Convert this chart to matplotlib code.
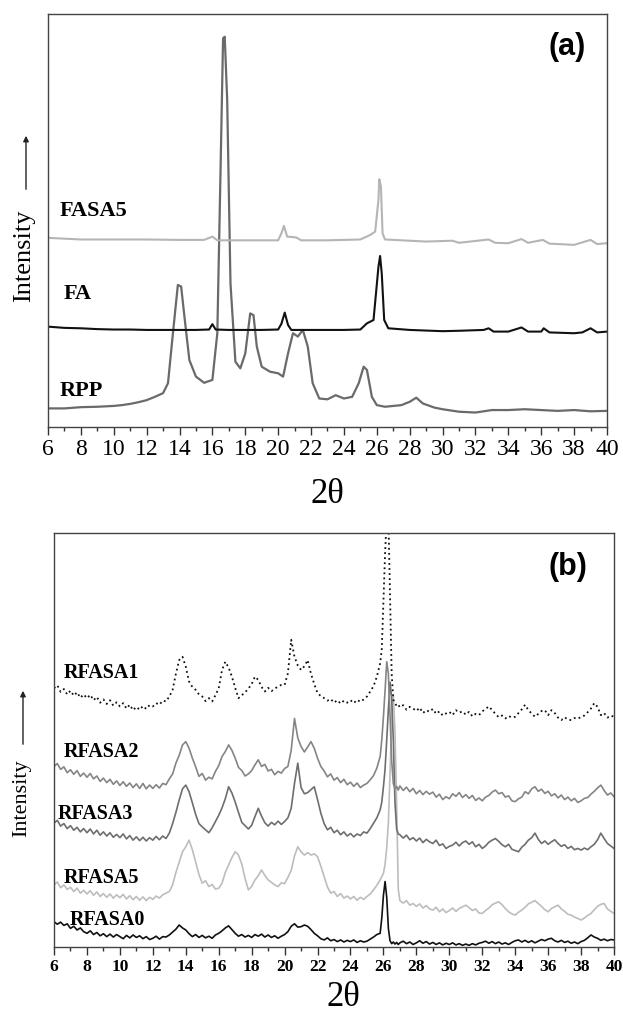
import matplotlib
matplotlib.use('Agg')
import matplotlib.pyplot as plt
from matplotlib.ticker import MultipleLocator

# ---------------- Panel (a) data ----------------
rpp_x = [6, 7, 8, 9, 10, 10.5, 11, 11.5, 12, 12.5, 13, 13.3, 13.6, 13.9, 14.1, 14.3, 14.6, 15, 15.5, 16,
         16.3, 16.5, 16.65, 16.75, 16.9, 17.1, 17.4, 17.7, 18.0, 18.3, 18.5, 18.7, 19.0, 19.5, 20.0, 20.3,
         20.6, 20.9, 21.2, 21.5, 21.8, 22.1, 22.5, 23, 23.5, 24, 24.5, 24.9, 25.2, 25.4, 25.7, 26, 26.5, 27,
         27.5, 28, 28.4, 28.8, 29.5, 30, 31, 32, 33, 34, 35, 36, 37, 38, 39, 40]
rpp_y = [4.5, 4.5, 4.8, 4.9, 5.1, 5.3, 5.6, 6.0, 6.5, 7.3, 8.2, 10.6, 22.7, 34.4, 34.0, 26.7, 16.2, 12.2, 10.7, 11.4,
         22.7, 63.0, 94.1, 94.5, 79.2, 34.8, 15.8, 14.2, 17.8, 27.5, 27.1, 19.5, 14.6, 13.4, 13.0, 12.2,
         17.8, 22.7, 21.9, 23.5, 19.5, 10.6, 6.9, 6.7, 7.7, 6.9, 7.3, 10.6, 14.6, 13.8, 7.3, 5.3, 4.9, 5.1,
         5.3, 6.1, 7.1, 5.7, 4.7, 4.3, 3.7, 3.5, 4.1, 4.1, 4.3, 4.1, 3.9, 4.1, 3.8, 3.9]

fa_x = [6, 7, 8, 9, 10, 11, 12, 13, 14, 15, 15.8, 16.0, 16.2, 17, 18, 19, 20, 20.2, 20.4, 20.6, 20.8, 22, 24,
        25, 25.4, 25.8, 26.1, 26.2, 26.3, 26.45, 26.7, 28, 30, 31, 32.5, 32.8, 33.1, 34, 34.8, 35.2, 36,
        36.15, 36.5, 38, 38.5, 39, 39.4, 40]
fa_y = [24.3, 24.0, 23.9, 23.7, 23.6, 23.6, 23.5, 23.5, 23.5, 23.5, 23.6, 24.9, 23.6, 23.5, 23.5, 23.5, 23.6,
        25.0, 27.7, 24.7, 23.5, 23.5, 23.5, 23.6, 25.1, 25.9, 38.8, 41.4, 37.2, 25.9, 23.9, 23.5, 23.2,
        23.3, 23.5, 23.9, 23.1, 23.1, 24.1, 23.1, 23.1, 23.9, 22.9, 22.7, 22.9, 23.9, 22.9, 23.1]

fasa5_x = [6, 7, 8, 10, 12, 14, 15.5, 16.0, 16.3, 18, 20, 20.2, 20.35, 20.55, 21.1, 21.4, 23, 25, 25.6, 25.9,
           26.1, 26.15, 26.25, 26.35, 26.5, 27, 29, 30.6, 31, 32.8, 33.2, 34, 34.8, 35.2, 36.1, 36.5, 38,
           39, 39.4, 40]
fasa5_y = [45.8, 45.6, 45.4, 45.4, 45.4, 45.3, 45.3, 46.1, 45.2, 45.2, 45.2, 46.9, 48.7, 46.1, 45.9, 45.2,
           45.2, 45.4, 46.5, 47.3, 55.0, 60.0, 58.2, 46.9, 45.4, 45.3, 44.9, 45.1, 44.6, 45.4, 44.6, 44.5,
           45.5, 44.6, 45.3, 44.4, 44.1, 45.3, 44.3, 44.5]

# ---------------- Panel (b) data (shared 2-theta sampling) ----------------
two_theta_b = [
    6.0, 6.2, 6.4, 6.6, 6.8, 7.0, 7.2, 7.4, 7.6, 7.8, 8.0, 8.2, 8.4, 8.6, 8.8, 9.0, 9.2, 9.4, 9.6, 9.8,
    10.0, 10.2, 10.4, 10.6, 10.8, 11.0, 11.2, 11.4, 11.6, 11.8, 12.0, 12.2, 12.4, 12.6, 12.8,
    13.0, 13.2, 13.4, 13.6, 13.8, 14.0, 14.2, 14.4, 14.6, 14.8, 15.0, 15.2, 15.4, 15.6, 15.8,
    16.0, 16.2, 16.4, 16.6, 16.8, 17.0, 17.2, 17.4, 17.6, 17.8, 18.0, 18.2, 18.4, 18.6, 18.8,
    19.0, 19.2, 19.4, 19.6, 19.8, 20.0, 20.2, 20.4, 20.6, 20.8, 21.0, 21.2, 21.4, 21.6, 21.8,
    22.0, 22.2, 22.4, 22.6, 22.8, 23.0, 23.2, 23.4, 23.6, 23.8, 24.0, 24.2, 24.4, 24.6, 24.8,
    25.0, 25.2, 25.4, 25.6, 25.8,
    25.9, 26.0, 26.1, 26.2, 26.3, 26.4, 26.5, 26.6, 26.7, 26.8, 26.9, 27.0,
    27.2, 27.4, 27.6, 27.8, 28.0, 28.2, 28.4, 28.6, 28.8, 29.0, 29.2, 29.4, 29.6, 29.8,
    30.0, 30.2, 30.4, 30.6, 30.8, 31.0, 31.2, 31.4, 31.6, 31.8, 32.0, 32.2, 32.4, 32.6, 32.8,
    33.0, 33.2, 33.4, 33.6, 33.8, 34.0, 34.2, 34.4, 34.6, 34.8, 35.0, 35.2, 35.4, 35.6, 35.8,
    36.0, 36.2, 36.4, 36.6, 36.8, 37.0, 37.2, 37.4, 37.6, 37.8, 38.0, 38.2, 38.4, 38.6, 38.8,
    39.0, 39.2, 39.4, 39.6, 39.8, 40.0]

rfasa1 = [
    62.5, 63.2, 61.6, 62.3, 61.0, 61.9, 60.7, 61.5, 60.2, 61.0, 60.1, 60.9, 59.6, 60.4, 59.0,
    59.8, 58.7, 59.6, 58.3, 59.1, 58.1, 58.9, 57.6, 58.5, 57.2, 58.0, 57.3, 58.2, 57.5, 58.4,
    58.1, 58.9, 58.5, 59.5, 59.3, 60.5, 62.1, 66.0, 69.3, 70.1, 67.7, 64.1, 62.8, 62.1, 61.0,
    60.5, 59.4, 60.1, 59.3, 60.8, 62.5, 66.9, 68.9, 67.5, 65.3, 62.6, 60.1, 60.8, 61.5, 62.4,
    63.5, 65.3, 64.5, 62.8, 61.7, 62.6, 61.8, 62.4, 62.9, 63.3, 63.3, 66.1, 74.2, 70.1, 68.0,
    66.9, 67.8, 69.3, 66.0, 63.5, 61.3, 60.6, 60.1, 59.5, 59.9, 59.0, 59.6, 58.8, 59.5, 59.0,
    59.6, 58.9, 59.7, 59.2, 59.8, 60.5, 61.7, 63.0, 65.3, 68.5,
    72.0, 83.8, 95.0, 104.0, 104.0, 85.0, 66.0, 59.7, 59.0, 58.2, 58.5, 57.9,
    58.4, 57.3, 58.0, 57.6, 57.0, 57.8, 56.5, 57.2, 56.8, 57.5, 56.3, 56.9, 55.9, 56.4,
    56.8, 56.0, 57.2, 56.6, 56.9, 56.1, 56.8, 55.7, 56.3, 56.0, 56.9, 57.5, 58.1, 57.2, 56.3,
    55.5, 55.9, 55.2, 55.8, 55.4, 55.6, 56.5, 57.4, 58.5, 57.2, 56.4, 55.6, 56.3, 57.0, 57.2,
    56.0, 57.2, 56.5, 55.4, 54.8, 55.5, 54.9, 54.8, 55.3, 55.1, 55.6, 55.9, 56.7, 57.6, 58.9,
    58.0, 56.0, 56.5, 55.4, 55.9, 55.6]

rfasa2 = [
    43.6, 44.3, 42.9, 43.5, 42.1, 42.8, 41.7, 42.6, 41.2, 42.0, 41.0, 41.9, 40.6, 41.3, 40.0,
    40.8, 39.7, 40.5, 39.3, 40.1, 39.0, 39.9, 38.8, 39.6, 38.5, 39.4, 38.3, 39.5, 38.2, 39.1,
    38.3, 39.2, 38.4, 39.5, 39.2, 40.6, 41.8, 44.4, 46.3, 48.8, 49.6, 48.0, 45.6, 43.5, 41.2,
    41.9, 40.3, 41.0, 40.6, 42.4, 43.8, 46.0, 47.2, 48.8, 47.5, 45.6, 43.4, 42.6, 41.3, 41.8,
    42.6, 44.0, 45.2, 43.6, 44.1, 42.5, 42.9, 41.6, 42.4, 42.0, 43.1, 43.6, 47.5, 55.2, 50.5,
    48.4, 47.1, 48.3, 49.6, 48.0, 45.6, 43.6, 42.5, 41.1, 41.8, 40.3, 40.9, 39.7, 40.5, 39.2,
    39.8, 38.8, 39.6, 38.5, 39.1, 39.5, 40.4, 41.4, 43.2, 46.0,
    50.0, 55.6, 62.0, 68.9, 66.0, 56.0, 45.0, 39.5, 38.2, 38.8, 37.9, 38.9,
    37.8, 38.6, 37.5, 38.3, 37.0, 37.8, 36.8, 37.6, 36.9, 37.4, 36.2, 36.9, 35.6, 36.3,
    35.8, 37.0, 36.4, 37.3, 36.1, 36.8, 35.9, 36.6, 35.4, 36.0, 35.3, 36.2, 36.6, 37.4, 37.9,
    37.0, 37.3, 36.2, 36.5, 35.3, 35.1, 35.8, 36.2, 37.5, 37.0, 38.2, 38.7, 37.6, 38.1, 37.1,
    37.6, 36.5, 37.0, 36.0, 36.7, 35.6, 36.2, 35.3, 35.9, 34.9, 35.3, 35.9, 36.1, 36.9, 37.6,
    38.4, 39.1, 37.8, 36.7, 37.2, 36.3]

rfasa3 = [
    29.9, 30.6, 29.2, 29.8, 28.6, 29.3, 28.2, 28.9, 27.8, 28.6, 27.6, 28.5, 27.3, 28.2, 27.0,
    27.8, 26.8, 27.6, 26.5, 27.2, 26.4, 27.3, 26.1, 26.9, 25.8, 26.6, 25.7, 26.5, 25.6, 26.4,
    25.8, 26.7, 25.9, 26.8, 26.2, 27.5, 29.8, 32.5, 35.5, 38.2, 39.1, 37.5, 34.8, 32.0, 29.8,
    29.0, 28.3, 27.6, 28.8, 30.3, 31.8, 33.6, 35.8, 38.7, 37.2, 35.0, 32.5, 30.1, 29.3, 28.5,
    29.4, 31.5, 33.5, 31.6, 30.0, 29.2, 30.1, 29.5, 30.4, 29.6, 30.3, 31.2, 33.5, 39.5, 44.4,
    38.5, 37.0, 37.3, 38.0, 38.7, 35.6, 32.3, 29.8, 28.3, 28.9, 27.6, 28.2, 27.1, 27.8, 26.8,
    27.4, 26.6, 27.3, 26.9, 27.8, 27.5, 28.6, 29.9, 31.2, 33.1,
    35.0, 38.7, 43.0, 50.0, 57.5, 64.0, 60.0, 50.0, 35.0, 28.5, 27.3, 27.1,
    26.3, 27.0, 25.9, 26.4, 25.6, 26.3, 25.2, 26.0, 25.4, 25.0, 25.8, 24.5, 24.9, 23.8,
    24.3, 24.6, 25.3, 24.4, 25.2, 25.6, 24.8, 25.4, 24.2, 24.8, 23.8, 24.4, 25.3, 25.8, 26.2,
    25.5, 24.7, 24.2, 24.8, 23.6, 23.3, 23.0, 24.1, 24.8, 25.8, 26.4, 27.5, 26.0, 25.0, 25.6,
    24.8, 25.4, 25.9, 25.0, 24.3, 24.7, 23.8, 24.3, 23.5, 23.8, 23.4, 23.9, 23.5, 24.2, 24.8,
    25.9, 27.5, 26.2, 25.0, 24.4, 23.8]

rfasa5 = [
    15.0, 15.7, 14.3, 15.0, 13.9, 14.4, 13.4, 14.2, 13.0, 13.7, 12.8, 13.6, 12.5, 13.3, 12.2,
    12.9, 12.0, 12.8, 11.8, 12.6, 11.9, 12.7, 11.6, 12.4, 11.4, 12.2, 11.3, 12.1, 11.2, 12.0,
    11.5, 12.3, 11.8, 12.6, 13.0, 13.4, 15.0, 18.0, 20.5, 23.0, 24.2, 25.8, 23.5, 20.5, 17.5,
    15.4, 16.0, 14.6, 15.1, 14.0, 14.2, 15.4, 18.0, 19.8, 21.6, 23.0, 22.2, 20.0, 16.5, 13.8,
    14.6, 16.2, 17.2, 18.6, 17.3, 16.2, 15.6, 15.0, 14.6, 15.5, 15.3, 16.8, 18.5, 22.0, 24.2,
    23.0, 22.2, 22.8, 22.2, 22.5, 21.8, 19.5, 17.0, 14.5, 13.0, 13.4, 12.2, 12.9, 11.8, 12.3,
    11.6, 12.2, 11.3, 12.0, 11.5, 12.2, 12.8, 13.8, 14.9, 16.2,
    17.0, 17.8, 20.0, 24.0, 30.0, 42.0, 55.0, 61.0, 52.0, 35.0, 14.0, 11.2,
    10.6, 11.2, 10.1, 10.5, 9.8, 10.4, 9.4, 10.0, 9.2, 8.9, 9.6, 8.5, 9.2, 8.3,
    8.8, 9.4, 8.6, 9.3, 9.7, 10.1, 9.5, 8.8, 9.2, 8.2, 8.1, 8.8, 9.4, 10.2, 10.6,
    10.9, 10.2, 9.3, 8.5, 8.0, 7.7, 8.4, 8.9, 9.6, 10.4, 10.8, 11.2, 10.5, 9.8, 9.0,
    8.5, 9.3, 9.7, 10.1, 9.2, 8.6, 7.9, 7.7, 7.2, 6.9, 6.5, 7.0, 7.6, 8.1, 9.0,
    9.8, 10.3, 10.5, 9.2, 8.6, 8.1]

rfasa0 = [
    6.1, 5.5, 6.0, 5.2, 5.6, 4.5, 5.0, 4.1, 4.6, 3.7, 3.3, 3.9, 3.0, 3.5, 2.7,
    3.2, 2.5, 3.1, 2.4, 3.0, 2.5, 2.0, 2.8, 2.2, 2.9, 2.3, 2.7, 2.0, 2.5, 1.8,
    2.1, 2.6, 1.9, 2.5, 2.4, 2.9, 3.6, 4.3, 5.3, 4.6, 4.1, 3.2, 2.5, 3.0, 2.3,
    2.8, 2.2, 2.6, 2.1, 2.9, 3.3, 3.9, 4.6, 5.1, 4.2, 3.3, 2.6, 3.0, 2.4, 2.8,
    2.3, 3.0, 2.6, 3.1, 2.4, 2.9, 2.3, 2.7, 2.1, 2.6, 3.0, 3.7, 5.0, 5.6, 4.8,
    4.9, 5.3, 5.0, 4.2, 3.3, 2.7, 2.0, 1.7, 2.2, 1.5, 1.8, 1.3, 1.7, 1.2, 1.6,
    1.3, 1.7, 1.1, 1.5, 1.2, 1.4, 1.9, 2.4, 3.0, 3.3,
    7.0, 12.5, 15.8, 12.0, 4.5, 1.5, 0.8, 1.2, 0.7, 1.1, 0.6, 1.0,
    1.4, 0.8, 1.2, 0.6, 1.0, 1.5, 0.9, 1.3, 0.7, 1.1, 0.6, 1.0, 0.5, 0.9,
    0.6, 1.0, 0.5, 0.8, 0.4, 0.7, 0.4, 0.8, 0.5, 0.9, 1.1, 1.4, 0.9, 1.3, 0.8,
    1.2, 0.7, 1.0, 0.6, 1.1, 1.5, 1.7, 1.2, 1.6, 1.1, 1.5, 1.0, 1.4, 1.8, 1.5,
    1.9, 2.1, 1.5, 1.2, 1.6, 1.1, 1.4, 0.9, 1.2, 0.8, 1.3, 1.6, 2.2, 2.9, 2.4,
    2.1, 1.6, 1.9, 1.5, 1.8, 1.7]

tick_vals = list(range(6, 41, 2))
tick_labels = [str(v) for v in tick_vals]

SERIF = ['Liberation Serif', 'DejaVu Serif']
SANS = ['Liberation Sans', 'DejaVu Sans']

fig = plt.figure(figsize=(6.23, 10.14), dpi=100)
axA = fig.add_axes([0.0770, 0.5789, 0.8973, 0.4073])
axB = fig.add_axes([0.0867, 0.0661, 0.8989, 0.4083])


def style_axis(ax, label_size, weight):
    ax.set_xlim(6, 40)
    ax.set_ylim(0, 100)
    ax.set_yticks([])
    ax.set_xticks(tick_vals)
    ax.set_xticklabels(tick_labels, fontfamily=SERIF, fontsize=label_size, fontweight=weight)
    ax.xaxis.set_minor_locator(MultipleLocator(1))
    ax.tick_params(axis='x', which='major', direction='out', length=5.8, width=1.0,
                   color='#333333', pad=3)
    ax.tick_params(axis='x', which='minor', direction='out', length=3.2, width=1.0,
                   color='#333333')
    for s in ax.spines.values():
        s.set_color('#444444')
        s.set_linewidth(1.0)


# Panel (a)
axA.plot(rpp_x, rpp_y, color='#6a6a6a', lw=1.6)
axA.plot(fa_x, fa_y, color='#111111', lw=1.5)
axA.plot(fasa5_x, fasa5_y, color='#b5b5b5', lw=1.5)
style_axis(axA, 17, 'normal')
axA.text(6.73, 52.3, 'FASA5', fontfamily=SERIF, fontsize=16, fontweight='bold', va='center', ha='left')
axA.text(6.97, 32.2, 'FA', fontfamily=SERIF, fontsize=16, fontweight='bold', va='center', ha='left')
axA.text(6.73, 8.7, 'RPP', fontfamily=SERIF, fontsize=16, fontweight='bold', va='center', ha='left')
axA.text(38.7, 92.0, '(a)', fontfamily=SANS, fontsize=22, fontweight='bold', va='center', ha='right')

# Panel (b)
axB.plot(two_theta_b, rfasa0, color='#111111', lw=1.2)
axB.plot(two_theta_b, rfasa5, color='#bdbdbd', lw=1.2)
axB.plot(two_theta_b, rfasa3, color='#6e6e6e', lw=1.2)
axB.plot(two_theta_b, rfasa2, color='#858585', lw=1.2)
axB.plot(two_theta_b, rfasa1, color='#111111', lw=1.3, linestyle=(0, (1, 1.8)))
style_axis(axB, 12.5, 'bold')
for txt, x, y in [('RFASA1', 6.61, 66.2), ('RFASA2', 6.61, 47.1), ('RFASA3', 6.24, 32.1),
                  ('RFASA5', 6.61, 16.7), ('RFASA0', 6.97, 6.5)]:
    axB.text(x, y, txt, fontfamily=SERIF, fontsize=14.5, fontweight='bold', va='center', ha='left')
axB.text(38.4, 91.8, '(b)', fontfamily=SANS, fontsize=22, fontweight='bold', va='center', ha='right')

# axis titles
fig.text(0.525, 1 - 495 / 1014, '2θ', fontfamily=SERIF, fontsize=25, ha='center', va='center')
fig.text(0.551, 1 - 998 / 1014, '2θ', fontfamily=SERIF, fontsize=25, ha='center', va='center')
fig.text(0.0385, 1 - 256 / 1014, 'Intensity', fontfamily=SERIF, fontsize=19, rotation=90,
         ha='center', va='center')
fig.text(0.0353, 1 - 798 / 1014, 'Intensity', fontfamily=SERIF, fontsize=16, rotation=90,
         ha='center', va='center')

# arrows next to Intensity
for xa, y0, y1 in [(26 / 623, 1 - 192 / 1014, 1 - 133 / 1014), (23 / 623, 1 - 747 / 1014, 1 - 688 / 1014)]:
    axA.annotate('', xy=(xa, y1), xytext=(xa, y0), xycoords='figure fraction',
                 textcoords='figure fraction', annotation_clip=False,
                 arrowprops=dict(arrowstyle='-|>', color='#222222', lw=1.0, mutation_scale=8))

fig.savefig('out.png', dpi=100)
